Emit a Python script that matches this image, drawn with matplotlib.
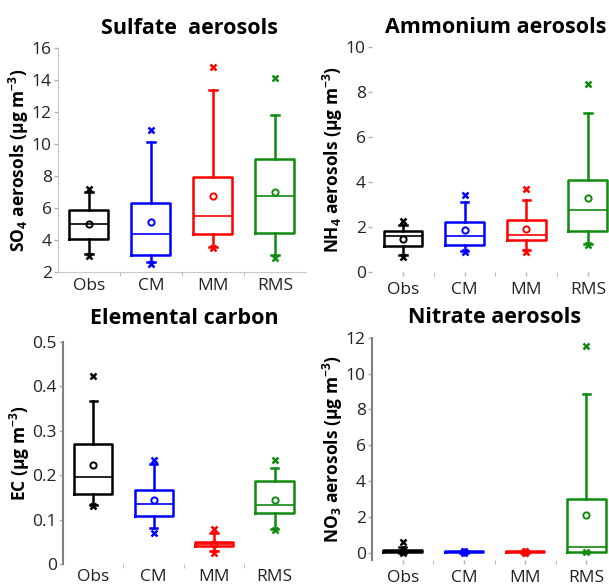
import matplotlib
matplotlib.use("Agg")
import matplotlib.pyplot as plt

plt.rcParams['font.family'] = ['Open Sans', 'DejaVu Sans']
plt.rcParams['mathtext.default'] = 'regular'

groups = ['Obs', 'CM', 'MM', 'RMS']
colors = ['black', '#0000ff', '#ff0000', '#118a11']

# SO4 (ug m-3): q1, median, q3, mean, low whisker, high whisker, min, max
so4_q1 = [4.08, 3.04, 4.40, 4.44]
so4_med = [5.02, 4.40, 5.48, 6.75]
so4_q3 = [5.90, 6.31, 7.94, 9.08]
so4_mean = [5.02, 5.12, 6.73, 7.00]
so4_lo = [3.10, 2.60, 3.55, 3.05]
so4_hi = [7.00, 10.12, 13.35, 11.80]
so4_min = [3.00, 2.50, 3.50, 2.90]
so4_max = [7.20, 10.90, 14.80, 14.10]

# NH4
nh4_q1 = [1.14, 1.19, 1.44, 1.82]
nh4_med = [1.59, 1.60, 1.63, 2.74]
nh4_q3 = [1.81, 2.22, 2.33, 4.07]
nh4_mean = [1.48, 1.85, 1.93, 3.30]
nh4_lo = [0.75, 0.95, 0.96, 1.25]
nh4_hi = [2.10, 3.11, 3.21, 7.08]
nh4_min = [0.65, 0.88, 0.89, 1.19]
nh4_max = [2.25, 3.41, 3.70, 8.37]

# EC
ec_q1 = [0.157, 0.109, 0.040, 0.114]
ec_med = [0.196, 0.136, 0.045, 0.133]
ec_q3 = [0.269, 0.166, 0.050, 0.187]
ec_mean = [0.223, 0.144, 0.045, 0.145]
ec_lo = [0.133, 0.082, 0.030, 0.078]
ec_hi = [0.367, 0.225, 0.070, 0.217]
ec_min = [0.130, 0.070, 0.024, 0.076]
ec_max = [0.423, 0.234, 0.078, 0.234]

# NO3
no3_q1 = [0.05, 0.02, 0.02, 0.06]
no3_med = [0.10, 0.05, 0.05, 0.33]
no3_q3 = [0.15, 0.08, 0.08, 2.98]
no3_mean = [0.10, 0.05, 0.05, 2.12]
no3_lo = [0.00, 0.00, 0.00, 0.05]
no3_hi = [0.30, 0.10, 0.10, 8.87]
no3_min = [0.00, 0.00, 0.00, 0.05]
no3_max = [0.60, 0.10, 0.10, 11.57]

panels = [
    ('Sulfate  aerosols', 'SO$_4$ aerosols (µg m$^{-3}$)', (2, 16), [2, 4, 6, 8, 10, 12, 14, 16],
     so4_q1, so4_med, so4_q3, so4_mean, so4_lo, so4_hi, so4_min, so4_max),
    ('Ammonium aerosols', 'NH$_4$ aerosols (µg m$^{-3}$)', (0, 10), [0, 2, 4, 6, 8, 10],
     nh4_q1, nh4_med, nh4_q3, nh4_mean, nh4_lo, nh4_hi, nh4_min, nh4_max),
    ('Elemental carbon', 'EC (µg m$^{-3}$)', (0, 0.5), [0, 0.1, 0.2, 0.3, 0.4, 0.5],
     ec_q1, ec_med, ec_q3, ec_mean, ec_lo, ec_hi, ec_min, ec_max),
    ('Nitrate aerosols', 'NO$_3$ aerosols (µg m$^{-3}$)', (-0.4, 12), [0, 2, 4, 6, 8, 10, 12],
     no3_q1, no3_med, no3_q3, no3_mean, no3_lo, no3_hi, no3_min, no3_max),
]

positions_ax = [
    [0.0952, 0.535, 0.407, 0.383],
    [0.611, 0.535, 0.405, 0.385],
    [0.1034, 0.036, 0.397, 0.3795],
    [0.611, 0.043, 0.402, 0.3795],
]
title_pads = [10, 10, 13, 11]
title_x = [0.53, 0.5, 0.5, 0.5]

fig = plt.figure(figsize=(6.09, 5.85), dpi=100)

for k, (title, ylab, ylim, yticks, q1, med, q3, mean, lo, hi, mn, mx) in enumerate(panels):
    ax = fig.add_axes(positions_ax[k])
    for i in range(4):
        c = colors[i]
        stats = [dict(q1=q1[i], med=med[i], q3=q3[i], mean=mean[i],
                      whislo=lo[i], whishi=hi[i], fliers=[mn[i], mx[i]])]
        ax.bxp(stats, positions=[i + 1], widths=0.63, showmeans=True,
               boxprops=dict(color=c, linewidth=1.8),
               medianprops=dict(color=c, linewidth=1.2),
               whiskerprops=dict(color=c, linewidth=1.8),
               capprops=dict(color=c, linewidth=1.8),
               capwidths=0.12,
               meanprops=dict(marker='o', markerfacecolor='none', markeredgecolor=c,
                              markersize=4.5, markeredgewidth=1.4),
               flierprops=dict(marker='x', markeredgecolor=c, markersize=5,
                               markeredgewidth=1.8))
    ax.set_xlim(0.5, 4.5)
    ax.set_ylim(*ylim)
    ax.set_yticks(yticks)
    if k == 2:
        ax.set_yticklabels(['0', '0.1', '0.2', '0.3', '0.4', '0.5'])
    ax.set_xticks([1, 2, 3, 4])
    ax.set_xticklabels(groups)
    ax.set_xticks([1.5, 2.5, 3.5], minor=True)
    ax.tick_params(axis='both', labelsize=12.5, labelcolor='#222222', color='#b0b0b0',
                   length=3, width=1, pad=1.5)
    ax.tick_params(axis='x', which='minor', length=3, color='#b0b0b0')
    ax.tick_params(axis='x', which='major', length=0 if k in (0, 2) else 3, pad=4)
    for s in ['top', 'right']:
        ax.spines[s].set_visible(False)
    if k == 0:
        ax.spines['left'].set_color('#c8c8c8')
        ax.spines['bottom'].set_color('#c8c8c8')
    elif k == 1:
        ax.spines['left'].set_visible(False)
        ax.spines['bottom'].set_visible(False)
    else:
        ax.spines['left'].set_color('#808080')
        ax.spines['left'].set_linewidth(1.5)
        ax.spines['bottom'].set_visible(False)
    ax.set_title(title, fontsize=15.5, fontweight='bold', pad=title_pads[k], x=title_x[k])
    ax.set_ylabel(ylab, fontsize=12.5, fontweight='bold', labelpad=0.5)

fig.savefig('out.png', dpi=100)
